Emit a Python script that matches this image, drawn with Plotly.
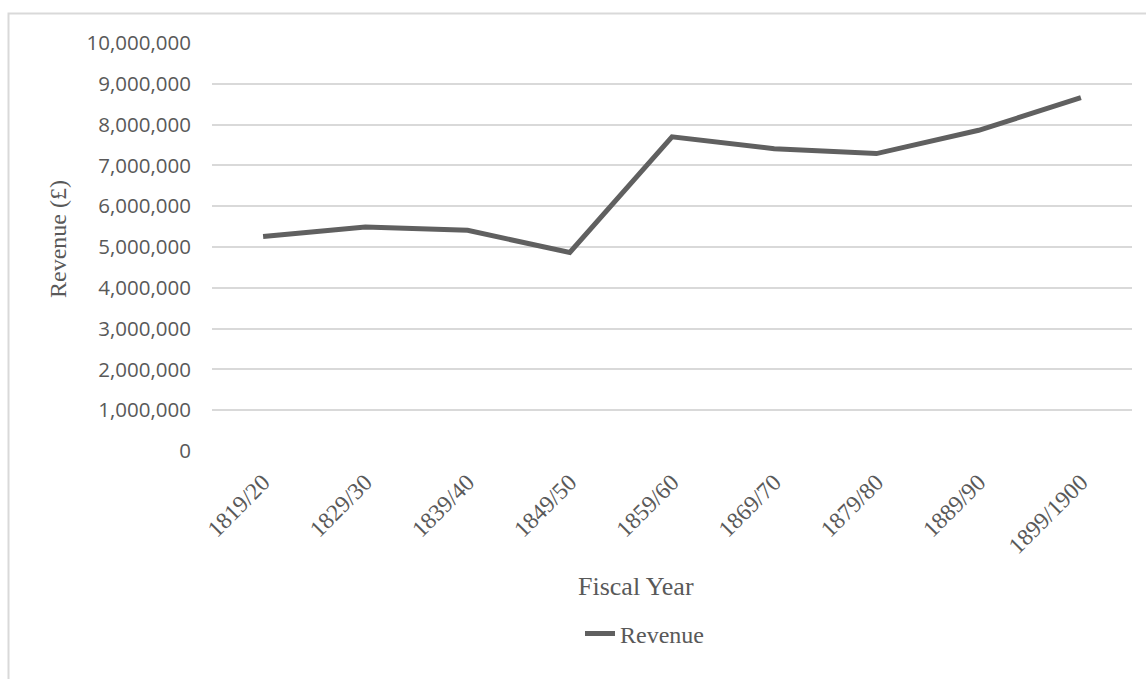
import plotly.graph_objects as go

# Fiscal years and revenue (£)
fiscal_years = ["1819/20", "1829/30", "1839/40", "1849/50", "1859/60",
                "1869/70", "1879/80", "1889/90", "1899/1900"]
revenue = [5260000, 5490000, 5410000, 4865000, 7700000,
           7410000, 7290000, 7860000, 8660000]

y_ticks = list(range(0, 10000001, 1000000))
y_tick_text = [f"{v:,}" for v in y_ticks]

W, H = 1146, 679
L, R, T, B = 212, 14, 43, 228
pw, ph = W - L - R, H - T - B


def px_x(p):
    return (p - L) / pw


def px_y(p):
    return (H - B - p) / ph


GREY_TEXT = "#595959"
GRID = "#d9d9d9"

fig = go.Figure()
fig.add_trace(go.Scatter(
    x=fiscal_years, y=revenue, mode="lines", name="Revenue",
    line=dict(color="#606060", width=5),
))

fig.update_layout(
    width=W, height=H,
    margin=dict(l=L, r=R, t=T, b=B),
    paper_bgcolor="white", plot_bgcolor="white",
    showlegend=True,
    legend=dict(
        orientation="h", x=px_x(580), y=px_y(634),
        xanchor="left", yanchor="middle",
        font=dict(family="Liberation Serif", size=24, color=GREY_TEXT),
        bgcolor="rgba(0,0,0,0)",
    ),
    xaxis=dict(
        type="category", showgrid=False, zeroline=False, showline=False,
        tickangle=-45, ticks="", ticklabelstandoff=12,
        tickfont=dict(family="Liberation Serif", size=23.5, color=GREY_TEXT),
        range=[-0.5, len(fiscal_years) - 0.5],
    ),
    yaxis=dict(
        range=[0, 10000000], tickvals=y_ticks, ticktext=y_tick_text,
        showgrid=True, gridcolor=GRID, gridwidth=1.5,
        zeroline=False, showline=False, ticks="",
        ticklabelstandoff=20,
        tickfont=dict(family="Open Sans", size=20.5, color=GREY_TEXT),
    ),
    shapes=[dict(
        type="rect", xref="paper", yref="paper",
        x0=px_x(8.5), x1=px_x(1170), y0=px_y(700), y1=px_y(13.5),
        line=dict(color=GRID, width=2), layer="below",
    )],
    annotations=[
        dict(text="Fiscal Year", xref="paper", yref="paper",
             x=px_x(636), y=px_y(586), xanchor="center", yanchor="middle",
             showarrow=False,
             font=dict(family="Liberation Serif", size=26, color=GREY_TEXT)),
        dict(text="Revenue (£)", xref="paper", yref="paper",
             x=px_x(58.5), y=px_y(239.5), xanchor="center", yanchor="middle",
             textangle=-90, showarrow=False,
             font=dict(family="Liberation Serif", size=24, color=GREY_TEXT)),
    ],
)

fig.write_html("out.html")
